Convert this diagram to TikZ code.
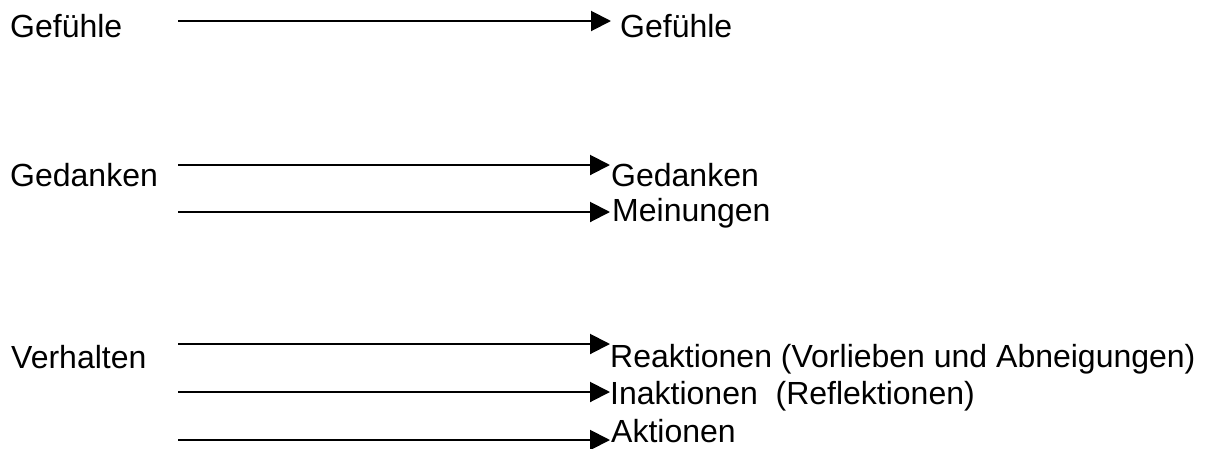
\documentclass[tikz,border=0pt]{standalone}
\usepackage{fontspec}
\setmainfont{Liberation Sans}
\usetikzlibrary{arrows.meta}
\begin{document}
\begin{tikzpicture}[x=1pt,y=-1pt,
  lbl/.style={anchor=base west,inner sep=0pt,font=\fontsize{32}{37}\selectfont},
  arr/.style={line width=2pt,-{Triangle[length=20pt,width=20pt]}}]
\useasboundingbox (0,0) rectangle (1205,448);
% left labels
\node[lbl] (lg) at (10,37) {Gefühle};
\node[lbl] (ld) at (10,186) {Gedanken};
\node[lbl] (lv) at (11,368) {Verhalten};
% right labels
\node[lbl] (rg) at (620,37) {Gefühle};
\node[lbl] (rd) at (611,186) {Gedanken};
\node[lbl] (rm) at (612,221) {Meinungen};
\node[lbl] (rr) at (610,367) {Reaktionen (Vorlieben und Abneigungen)};
\node[lbl] (ri) at (610,404) {Inaktionen\ \ (Reflektionen)};
\node[lbl] (ra) at (611,442) {Aktionen};
% connector ends
\coordinate (s1) at (178,21);  \coordinate (e1) at (611,21);
\coordinate (s2) at (178,165); \coordinate (e2) at (610,165);
\coordinate (s3) at (178,212); \coordinate (e3) at (610,212);
\coordinate (s4) at (178,344); \coordinate (e4) at (610,344);
\coordinate (s5) at (178,392); \coordinate (e5) at (610,392);
\coordinate (s6) at (178,440); \coordinate (e6) at (610,440);
\draw[arr] (s1) -- (e1);
\draw[arr] (s2) -- (e2);
\draw[arr] (s3) -- (e3);
\draw[arr] (s4) -- (e4);
\draw[arr] (s5) -- (e5);
\draw[arr] (s6) -- (e6);
\end{tikzpicture}
\end{document}
